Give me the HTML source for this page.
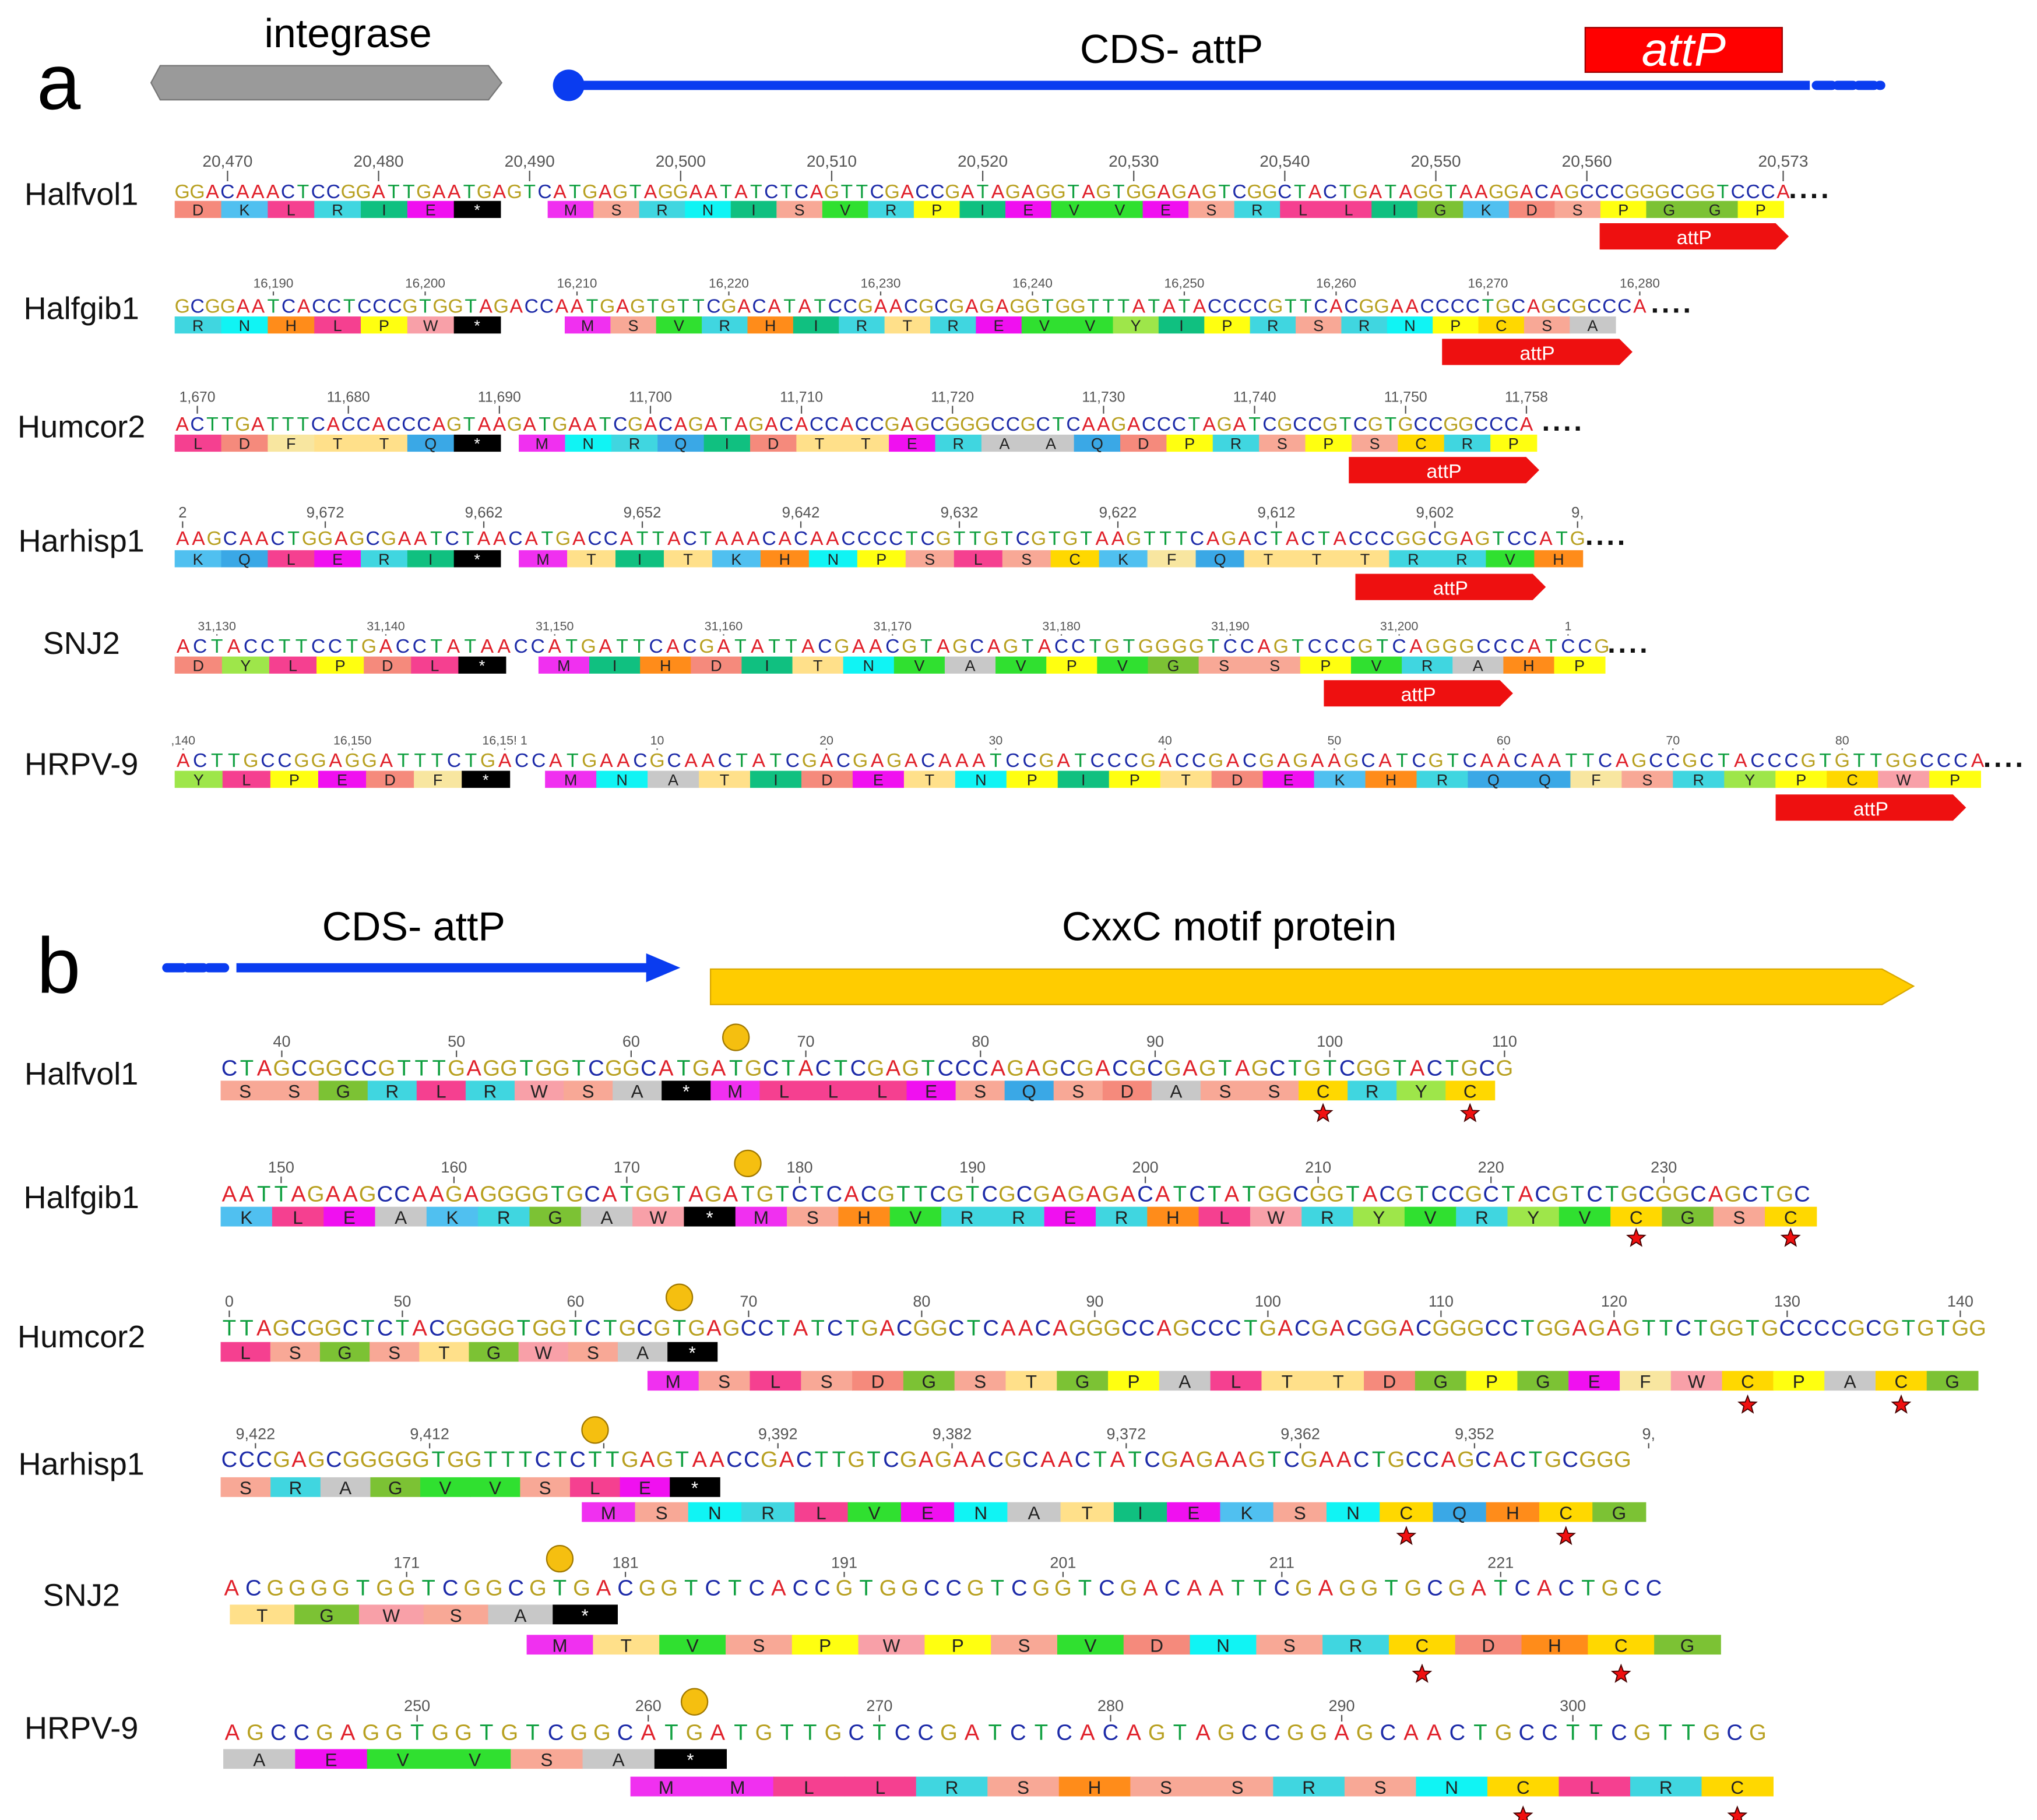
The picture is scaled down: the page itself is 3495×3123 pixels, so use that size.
<!DOCTYPE html>
<html><head><meta charset="utf-8"><style>
html,body{margin:0;padding:0;background:#fff;}
svg{display:block;font-family:"Liberation Sans","DejaVu Sans",sans-serif;}
</style></head><body>
<svg id="fig" xmlns="http://www.w3.org/2000/svg" width="3495" height="3123" viewBox="0 0 1551 1386" preserveAspectRatio="none">
<g>
<text x="28" y="83" font-size="60">a</text>
<polygon points="115,63 122,50 372,50 382,63 372,76 122,76" fill="#9a9a9a" stroke="#777" stroke-width="1"/>
<text x="265" y="36" font-size="31" text-anchor="middle">integrase</text>
<line x1="433" y1="65" x2="1378" y2="65" stroke="#0a3cf0" stroke-width="7"/>
<circle cx="433" cy="65" r="12" fill="#0a3cf0"/>
<line x1="1383" y1="65" x2="1432" y2="65" stroke="#0a3cf0" stroke-width="7" stroke-dasharray="12,4" stroke-linecap="round"/>
<text x="892" y="48" font-size="31" text-anchor="middle">CDS- attP</text>
<rect x="1207" y="21" width="150" height="34" fill="#f00" stroke="#900" stroke-width="1"/>
<text x="1282" y="50" font-size="36" font-style="italic" fill="#fff" text-anchor="middle">attP</text>
</g>
<g>
<text x="28" y="756" font-size="60">b</text>
<line x1="127" y1="737" x2="175" y2="737" stroke="#0a3cf0" stroke-width="7" stroke-dasharray="12,4" stroke-linecap="round"/>
<line x1="180" y1="737" x2="495" y2="737" stroke="#0a3cf0" stroke-width="7"/>
<polygon points="492,726 518,737 492,748" fill="#0a3cf0"/>
<text x="315" y="716" font-size="31" text-anchor="middle">CDS- attP</text>
<polygon points="541,738 1433,738 1457,751 1433,765 541,765" fill="#ffcc00" stroke="#d9a800" stroke-width="1"/>
<text x="936" y="716" font-size="31" text-anchor="middle">CxxC motif protein</text>
</g>
<g id="rows"></g>
</svg>
<script>
// ---- data ----
const rowNames = ["Halfvol1","Halfgib1","Humcor2","Harhisp1","SNJ2","HRPV-9"];
const seqA = [
"GGACAAACTCCGGATTGAATGAGTCATGAGTAGGAATATCTCAGTTCGACCGATAGAGGTAGTGGAGAGTCGGCTACTGATAGGTAAGGACAGCCCGGGCGGTCCCA",
"GCGGAATCACCTCCCGTGGTAGACCAATGAGTGTTCGACATATCCGAACGCGAGAGGTGGTTTATATACCCCGTTCACGGAACCCCTGCAGCGCCCA",
"ACTTGATTTCACCACCCAGTAAGATGAATCGACAGATAGACACCACCGAGCGGGCCGCTCAAGACCCTAGATCGCCGTCGTGCCGGCCCA",
"AAGCAACTGGAGCGAATCTAACATGACCATTACTAAACACAACCCCTCGTTGTCGTGTAAGTTTCAGACTACTACCCGGCGAGTCCATG",
"ACTACCTTCCTGACCTATAACCATGATTCACGATATTACGAACGTAGCAGTACCTGTGGGGTCCAGTCCCGTCAGGGCCCATCCG",
"ACTTGCCGGAGGATTTCTGACCATGAACGCAACTATCGACGAGACAAATCCGATCCCGACCGACGAGAAGCATCGTCAACAATTCAGCCGCTACCCGTGTTGGCCCA"
];
const seqB = [
"CTAGCGGCCGTTTGAGGTGGTCGGCATGATGCTACTCGAGTCCCAGAGCGACGCGAGTAGCTGTCGGTACTGCG",
"AATTAGAAGCCAAGAGGGGTGCATGGTAGATGTCTCACGTTCGTCGCGAGAGACATCTATGGCGGTACGTCCGCTACGTCTGCGGCAGCTGC",
"TTAGCGGCTCTACGGGGTGGTCTGCGTGAGCCTATCTGACGGCTCAACAGGGCCAGCCCTGACGACGGACGGGCCTGGAGAGTTCTGGTGCCCCGCGTGTGG",
"CCCGAGCGGGGGTGGTTTCTCTTGAGTAACCGACTTGTCGAGAACGCAACTATCGAGAAGTCGAACTGCCAGCACTGCGGGG",
"ACGGGGTGGTCGGCGTGACGGTCTCACCGTGGCCGTCGGTCGACAATTCGAGGTGCGATCACTGCC",
"AGCCGAGGTGGTGTCGGCATGATGTTGCTCCGATCTCACAGTAGCCGGAGCAACTGCCTTCGTTGCG"
];
const aaA1 = ["DKLRIE*","RNHLPW*","LDFTTQ*","KQLERI*","DYLPDL*","YLPEDF*"];
const aaA2 = ["MSRNISVRPIEVVESRLLIGKDSPGGP","MSVRHIRTREVVYIPRSRNPCSA","MNRQIDTTERAAQDPRSPSCRP","MTITKHNPSLSCKFQTTTRRVH","MIHDITNVAVPVGSSPVRAHP","MNATIDETNPIPTDEKHRQQFSRYPCWP"];
const aaB1 = ["","","LSGSTGWSA*","SRAGVVSLE*","TGWSA*","AEVVSA*"];
const aaB2 = ["SSGRLRWSA*MLLLESQSDASSCRYC","KLEAKRGAW*MSHVRRERHLWRYVRYVCGSC","MSLSDGSTGPALTTDGPGEFWCPACG","MSNRLVENATIEKSNCQHCG","MTVSPWPSVDNSRCDHCG","MMLLRSHSSRSNCLRC"];
const tickLabelsA = [
["20,470","20,480","20,490","20,500","20,510","20,520","20,530","20,540","20,550","20,560","20,573"],
["16,190","16,200","16,210","16,220","16,230","16,240","16,250","16,260","16,270","16,280"],
["1,670","11,680","11,690","11,700","11,710","11,720","11,730","11,740","11,750","11,758"],
["2","9,672","9,662","9,652","9,642","9,632","9,622","9,612","9,602","9,"],
["31,130","31,140","31,150","31,160","31,170","31,180","31,190","31,200","1"],
[",140","16,150","16,15! 1","10","20","30","40","50","60","70","80"]
];
const tickIdxA = [
[3,13,23,33,43,53,63,73,83,93,106],
[6,16,26,36,46,56,66,76,86,96],
[1,11,21,31,41,51,61,71,81,89],
[0,9,19,29,39,49,59,69,79,88],
[2,12,22,32,42,52,62,72,82],
[0,10,19,28,38,48,58,68,78,88,98]
];
const tickLabelsB = [
["40","50","60","70","80","90","100","110"],
["150","160","170","180","190","200","210","220","230"],
["0","50","60","70","80","90","100","110","120","130","140"],
["9,422","9,412","9","9,392","9,382","9,372","9,362","9,352","9,"],
["171","181","191","201","211","221"],
["250","260","270","280","290","300"]
];
const tickIdxB = [
[3,13,23,33,43,53,63,73],
[3,13,23,33,43,53,63,73,83],
[0,10,20,30,40,50,60,70,80,90,100],
[1.5,11.5,21.5,31.5,41.5,51.5,61.5,71.5,81.5],
[8,18,28,38,48,58],
[8,18,28,38,48,58]
];
const startCodonIdxB = [29,30,26,21,15,20];

// ---- layout ----
const layA = [
 {ly:156, sy:151, x0:133, cw:11.5, xe:1360, ty:127, tf:12.5, a1:[133,381,153], a2:[417,1358,153], attp:[1218,1362,170]},
 {ly:243, sy:238, x0:133, cw:11.56, xe:1255, ty:219, tf:10, a1:[133,381,241], a2:[430,1230,241], attp:[1098,1243,258]},
 {ly:333, sy:328, x0:133, cw:11.5, xe:1172, ty:306, tf:11, a1:[133,381,331], a2:[395,1170,331], attp:[1027,1172,348]},
 {ly:420, sy:415, x0:133, cw:12.07, xe:1205, ty:394, tf:11.5, a1:[133,381,419], a2:[395,1205,419], attp:[1032,1177,437]},
 {ly:498, sy:497, x0:133, cw:12.86, xe:1222, ty:480, tf:9.5, a1:[133,385,500], a2:[410,1222,500], attp:[1008,1152,518]},
 {ly:590, sy:584, x0:133, cw:12.89, xe:1508, ty:567, tf:9.5, a1:[133,388,587], a2:[415,1508,587], attp:[1352,1497,605]}
];
const layB = [
 {ly:826, sy:819, x0:168, cw:13.3, xe:1148, ty:797, a1:null, a2:[168,1138,823], sy2:848},
 {ly:920, sy:915, x0:168, cw:13.16, xe:1383, ty:893, a1:null, a2:[168,1383,919], sy2:943},
 {ly:1026, sy:1017, x0:168, cw:13.18, xe:1506, ty:995, a1:[168,546,1022], a2:[493,1506,1044], sy2:1070},
 {ly:1123, sy:1117, x0:168, cw:13.26, xe:1246, ty:1096, a1:[168,548,1125], a2:[443,1253,1144], sy2:1170},
 {ly:1223, sy:1215, x0:168, cw:16.66, xe:1262, ty:1194, a1:[175,470,1222], a2:[401,1310,1245], sy2:1275},
 {ly:1324, sy:1325, x0:168, cw:17.6, xe:1350, ty:1303, a1:[170,553,1332], a2:[480,1350,1353], sy2:1383}
];
const NT = {A:'#e0202a',C:'#1c2aa8',G:'#b8a020',T:'#10a040'};
const AA = {A:'#c8c8c8',R:'#40d6e0',N:'#10f4f4',D:'#f58a7c',C:'#ffd800',Q:'#3aa8e6',E:'#f010f0',G:'#7cc234',H:'#ff8c1a',I:'#10c080',L:'#f54090',K:'#50c0f0',M:'#f030f0',F:'#f8e6a0',P:'#ffff10',S:'#f8a896',T:'#ffe08a',W:'#f8a0a8',Y:'#9ee64a',V:'#30e030','*':'#000'};
const NS = 'http://www.w3.org/2000/svg';
const root = document.getElementById('rows');
function mk(tag, attrs, parent){const e=document.createElementNS(NS,tag);for(const k in attrs)e.setAttribute(k,attrs[k]);parent.appendChild(e);return e;}

function drawSeq(g, seq, L, fs){
  const n = Math.min(seq.length, Math.round((L.xe-L.x0)/L.cw));
  for(let i=0;i<n;i++){
    const t = mk('text',{x:L.x0+(i+0.5)*L.cw, y:L.sy, 'font-size':fs, 'text-anchor':'middle', fill:NT[seq[i]]||'#333'}, g);
    
    
    t.textContent = seq[i];
  }
}
function drawTicks(g, labels, idx, L, fs, gap){
  labels.forEach((lab,j)=>{
    const x = L.x0+(idx[j]+0.5)*L.cw;
    const t = mk('text',{x:x, y:L.ty, 'font-size':fs, 'text-anchor':'middle', fill:'#555'}, g);
    
    
    t.textContent = lab;
    const l = mk('line',{x1:x, x2:x, y1:L.ty+3, y2:L.ty+3+gap, stroke:'#555','stroke-width':1}, g);
    
    
  });
}
function drawAA(g, s, seg, h, fs, stars, starY){
  if(!seg || !s) return;
  const w = (seg[1]-seg[0])/s.length;
  for(let i=0;i<s.length;i++){
    const c=s[i], x=seg[0]+i*w;
    const r = mk('rect',{x:x, y:seg[2], width:w+0.4, height:h, fill:AA[c]||'#ddd'}, g);
    
    
    const t = mk('text',{x:x+w/2, y:seg[2]+h-2, 'font-size':fs, 'text-anchor':'middle', fill:c==='*'?'#fff':'#222'}, g);
    
    
    t.textContent = c;
    if(stars && c==='C'){
      const cx=x+w/2, cy=starY, R=7, r2=3;
      let pts=[];
      for(let k=0;k<10;k++){const a=-Math.PI/2+k*Math.PI/5, rr=k%2?r2:R; pts.push((cx+rr*Math.cos(a)).toFixed(1)+','+(cy+rr*Math.sin(a)).toFixed(1));}
      const st = mk('polygon',{points:pts.join(' '), fill:'#f01010', stroke:'#400', 'stroke-width':0.8}, g);
      
      
    }
  }
}
// panel a
rowNames.forEach((name,r)=>{
  const L = layA[r];
  const g = mk('g',{},root);
  
  
  const lt = mk('text',{x:62, y:L.ly, 'font-size':24, 'text-anchor':'middle', fill:'#111'}, g);
  
  
  lt.textContent = name;
  drawTicks(g, tickLabelsA[r], tickIdxA[r], L, L.tf, L.sy-L.ty-16);
  drawSeq(g, seqA[r], L, 15);
  const dots = mk('text',{x:L.xe+2, y:L.sy, 'font-size':22, 'font-weight':'bold', fill:'#111', 'letter-spacing':'2'}, g);
  
  
  dots.textContent='....';
  drawAA(g, aaA1[r], L.a1, 13, 12, false, 0);
  drawAA(g, aaA2[r], L.a2, 13, 12, false, 0);
  const a = L.attp;
  const ar = mk('polygon',{points:`${a[0]},${a[2]} ${a[1]-10},${a[2]} ${a[1]},${a[2]+10} ${a[1]-10},${a[2]+20} ${a[0]},${a[2]+20}`, fill:'#ee1010'}, g);
  
  
  const at = mk('text',{x:(a[0]+a[1])/2, y:a[2]+16, 'font-size':15, 'text-anchor':'middle', fill:'#fff'}, g);
  
  
  at.textContent='attP';
});
// panel b
rowNames.forEach((name,r)=>{
  const L = layB[r];
  const g = mk('g',{},root);
  
  
  const lt = mk('text',{x:62, y:L.ly, 'font-size':24, 'text-anchor':'middle', fill:'#111'}, g);
  
  
  lt.textContent = name;
  drawTicks(g, tickLabelsB[r], tickIdxB[r], L, 12, L.sy-L.ty-17);
  drawSeq(g, seqB[r], L, 17);
  const cx = L.x0+(startCodonIdxB[r]+0.5)*L.cw;
  const c = mk('circle',{cx:cx, cy:L.ty-7, r:10, fill:'#f5bf10', stroke:'#a07800', 'stroke-width':1}, g);
  
  
  drawAA(g, aaB1[r], L.a1, 15, 14, false, 0);
  drawAA(g, aaB2[r], L.a2, 15, 14, true, L.sy2);
});
</script>
</body></html>
